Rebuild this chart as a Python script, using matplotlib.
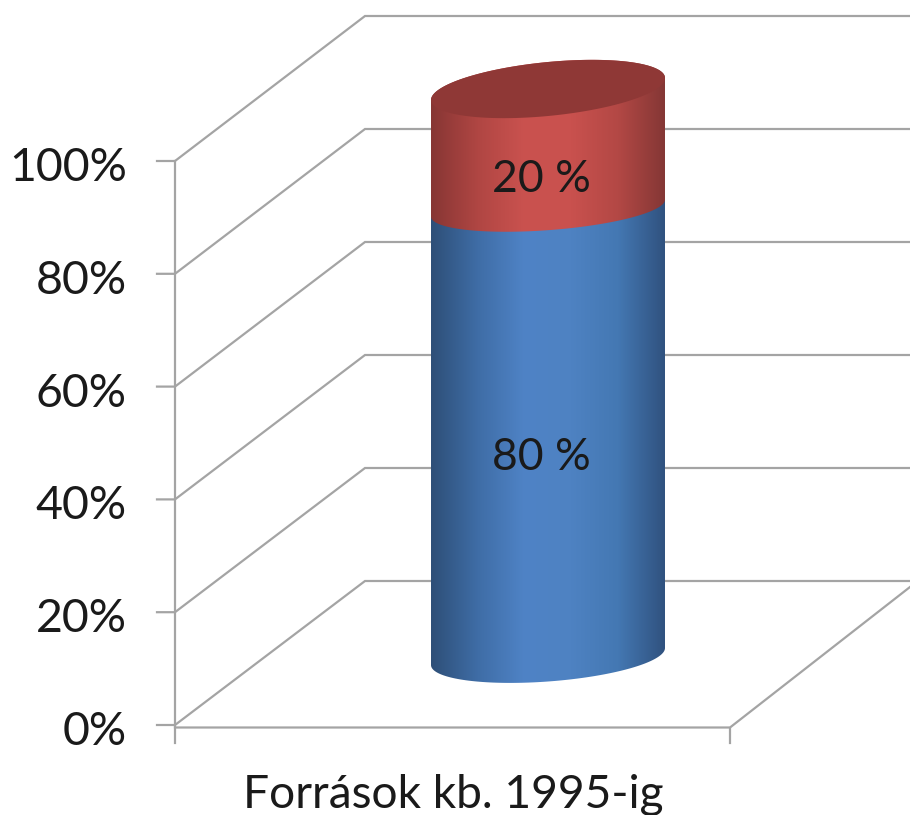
import numpy as np
import matplotlib
matplotlib.use("Agg")
import matplotlib.pyplot as plt
from matplotlib.colors import LinearSegmentedColormap
from matplotlib.patches import Polygon

plt.rcParams["font.family"] = ["Lato", "DejaVu Sans"]

# adatok
category = "Források kb. 1995-ig"
tick_values = [0, 20, 40, 60, 80, 100]
tick_labels = ["0%", "20%", "40%", "60%", "80%", "100%"]
segment_heights = [79, 21]
segment_labels = ["80 %", "20 %"]
segment_stops = [
    ["#2e4f78", "#3f6da6", "#4f83c6", "#4e82c2", "#4478b3", "#30527f"],
    ["#873634", "#b04643", "#ca524f", "#c9514e", "#b34845", "#843735"],
]
cap_color = "#8f3836"
grid_color = "#a4a4a4"
text_color = "#1a1a1a"

CX, RX = 548, 117
# az ellipszis alakja szintenként (alul, határ, felül)
level_b = [25, 22, 27]
level_s = [8.5, 8.5, 11]
label_shift = [25, 31]


def y_front(v):
    return 725 - 5.64 * v


def y_back(v):
    return 581 - 5.65 * v


def y_cyl(v):
    return 656.5 - 5.675 * v


def ellipse(level, v, t):
    # a henger ferde ellipszise az adott szinten
    b, s = level_b[level], level_s[level]
    return CX + RX * np.cos(t), y_cyl(v) + b * np.sin(t) - s * np.cos(t)


fig = plt.figure(figsize=(9.1, 8.15), dpi=100)
ax = fig.add_axes([0, 0, 1, 1])
ax.set_axis_off()

# rács és tengelyek
for v, label in zip(tick_values, tick_labels):
    yf, yb = y_front(v), y_back(v)
    ax.plot([157, 175, 365, 910], [yf, yf, yb, yb], color=grid_color, lw=1.6, solid_joinstyle="miter")
    ax.text(127, yf + 7, label, ha="right", va="center", fontsize=33.5, color=text_color)
ax.plot([175, 175], [y_front(100), 743], color=grid_color, lw=1.6)
ax.plot([175, 730, 910], [727.5, 727.5, 587], color=grid_color, lw=1.6)
ax.plot([730, 730], [727.5, 743], color=grid_color, lw=1.6)

# henger szegmensek
start = 0
t_front = np.linspace(0, np.pi, 120)
t_back = np.linspace(np.pi, 2 * np.pi, 120)
for i, (height, label, stops) in enumerate(zip(segment_heights, segment_labels, segment_stops)):
    end = start + height
    x1, y1 = ellipse(i, start, t_front)
    x2, y2 = ellipse(i + 1, end, t_back)
    body = Polygon(np.column_stack([np.r_[x1, x2], np.r_[y1, y2]]), closed=True,
                   facecolor="none", edgecolor="none")
    ax.add_patch(body)
    cmap = LinearSegmentedColormap.from_list("henger", stops)
    grad = np.linspace(0, 1, 256).reshape(1, -1)
    im = ax.imshow(grad, cmap=cmap, aspect="auto", zorder=3,
                   extent=[CX - RX, CX + RX, y_cyl(start) + 60, y_cyl(end) - 60])
    im.set_clip_path(body)
    ax.text(541, (y_cyl(start) + y_cyl(end)) / 2 + label_shift[i], label, ha="center", va="center",
            fontsize=32, color=text_color, zorder=6)
    start = end

# teteje
t_all = np.linspace(0, 2 * np.pi, 240)
xt, yt = ellipse(2, start, t_all)
ax.add_patch(Polygon(np.column_stack([xt, yt]), closed=True, facecolor=cap_color,
                     edgecolor="none", zorder=4))

ax.text(453, 795, category, ha="center", va="center", fontsize=33.2, color=text_color)

ax.set_xlim(0, 910)
ax.set_ylim(815, 0)
fig.savefig("out.png", dpi=100, facecolor="white")
